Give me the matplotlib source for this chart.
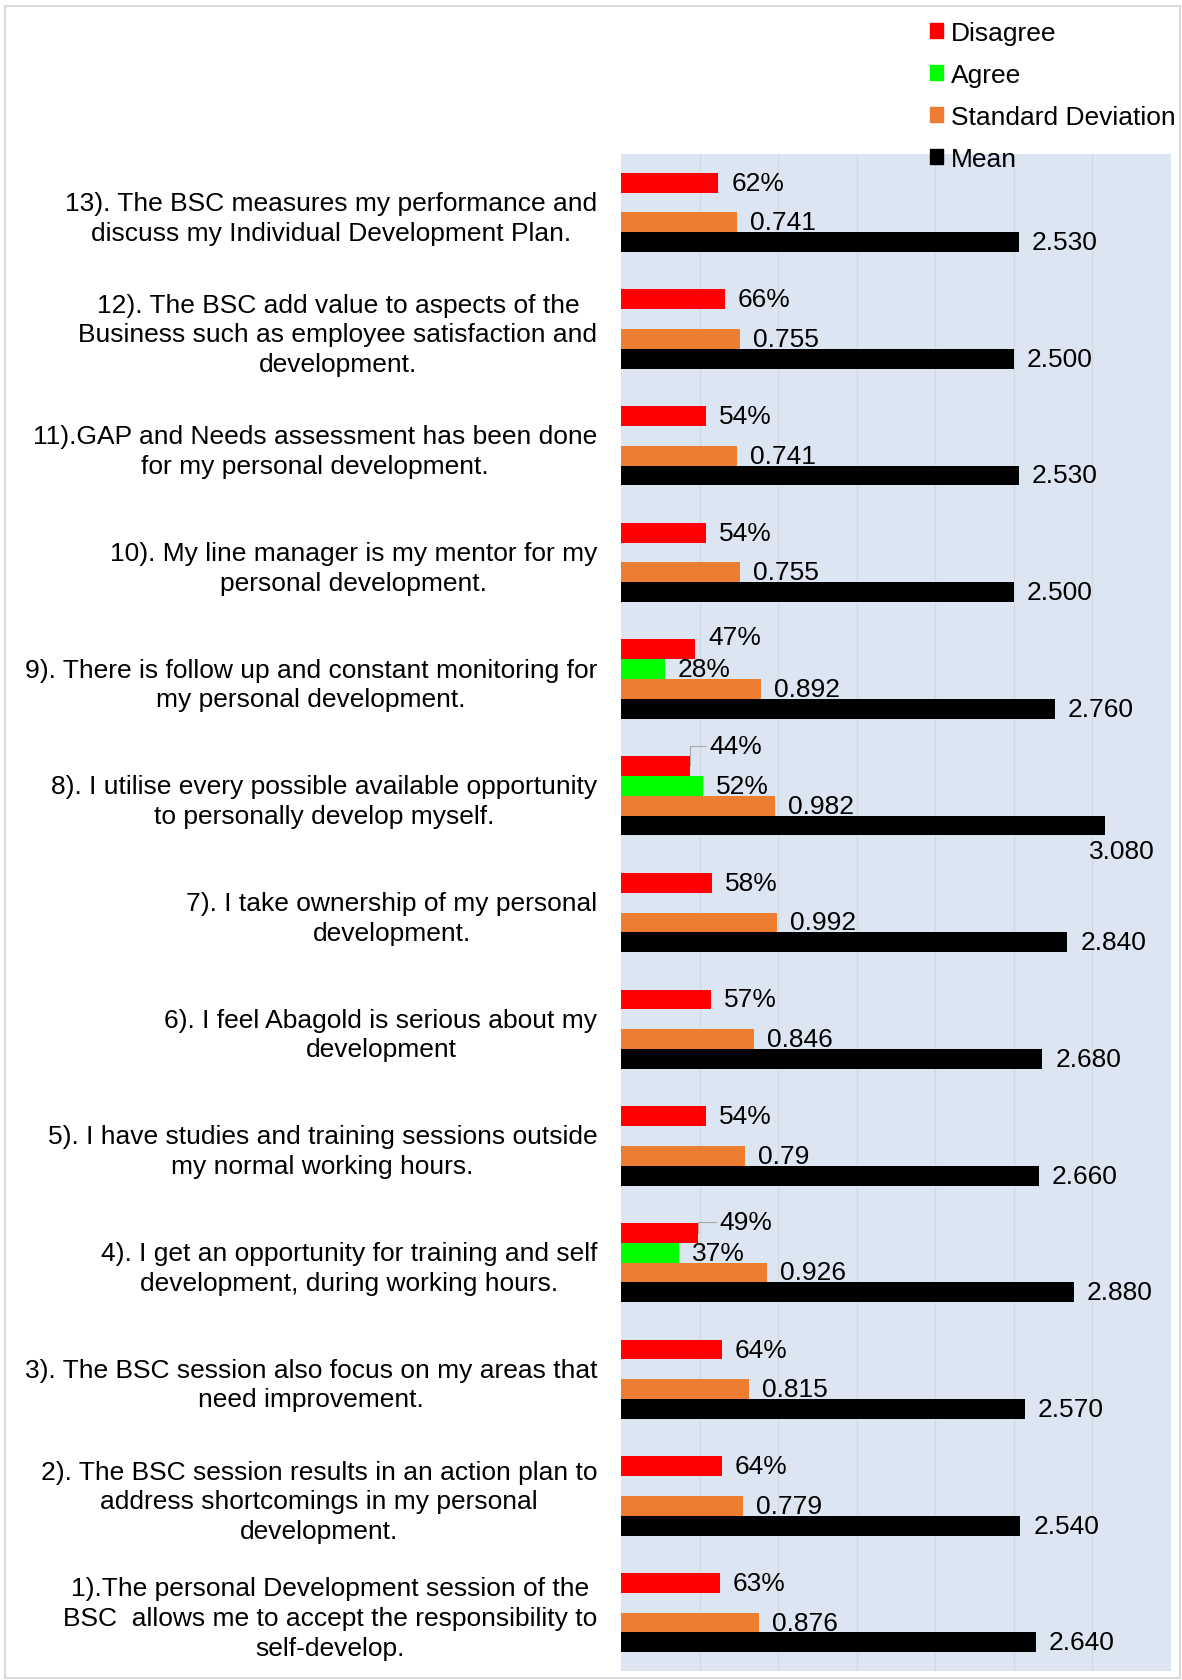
import numpy as np
import matplotlib.pyplot as plt
from matplotlib.patches import Rectangle, Patch

plt.rcParams['font.family'] = ['Liberation Sans', 'DejaVu Sans']

# survey items, bottom (1) to top (13)
questions = [
    "1).The personal Development session of the\nBSC  allows me to accept the responsibility to\nself-develop.",
    "2). The BSC session results in an action plan to\naddress shortcomings in my personal\ndevelopment.",
    "3). The BSC session also focus on my areas that\nneed improvement.",
    "4). I get an opportunity for training and self\ndevelopment, during working hours.",
    "5). I have studies and training sessions outside\nmy normal working hours.",
    "6). I feel Abagold is serious about my\ndevelopment",
    "7). I take ownership of my personal\ndevelopment.",
    "8). I utilise every possible available opportunity\nto personally develop myself.",
    "9). There is follow up and constant monitoring for\nmy personal development.",
    "10). My line manager is my mentor for my\npersonal development.",
    "11).GAP and Needs assessment has been done\nfor my personal development.",
    "12). The BSC add value to aspects of the\nBusiness such as employee satisfaction and\ndevelopment.",
    "13). The BSC measures my performance and\ndiscuss my Individual Development Plan.",
]
disagree = [0.63, 0.64, 0.64, 0.49, 0.54, 0.57, 0.58, 0.44, 0.47, 0.54, 0.54, 0.66, 0.62]
agree = [np.nan, np.nan, np.nan, 0.37, np.nan, np.nan, np.nan, 0.52, 0.28, np.nan, np.nan, np.nan, np.nan]
std_dev = [0.876, 0.779, 0.815, 0.926, 0.79, 0.846, 0.992, 0.982, 0.892, 0.755, 0.741, 0.755, 0.741]
mean = [2.64, 2.54, 2.57, 2.88, 2.66, 2.68, 2.84, 3.08, 2.76, 2.50, 2.53, 2.50, 2.53]

FS = 19
pt = 72 / 100  # pixels -> points at dpi 100

fig = plt.figure(figsize=(11.82, 16.81), dpi=100)
ax = fig.add_axes([621 / 1182, 1 - 1672 / 1681, 550 / 1182, (1672 - 155) / 1681])
ax.set_facecolor('#DCE6F2')

y = np.arange(1, len(questions) + 1)
h = 0.17

series = [
    ('Disagree', disagree, '#FF0000', 1.5, lambda v: f"{v * 100:.0f}%"),
    ('Agree', agree, '#00FF00', 0.5, lambda v: f"{v * 100:.0f}%"),
    ('Standard Deviation', std_dev, '#ED7D31', -0.5, lambda v: f"{v:g}"),
    ('Mean', mean, '#000000', -1.5, lambda v: f"{v:.3f}"),
]

# labels that got nudged off their bars (offsets in pixels)
moved = {
    ('Disagree', 8): (19, 20, True),
    ('Disagree', 4): (21, 11, True),
    ('Disagree', 9): (14, 12, False),
    ('Mean', 8): (-16, -25, False),
}

handles = []
for name, vals, color, off, fmt in series:
    vals = np.array(vals, dtype=float)
    ok = np.isfinite(vals)
    ax.barh(y[ok] + off * h, vals[ok], height=h, color=color, zorder=3)
    handles.append(Patch(color=color, label=name))
    for yi, v in zip(y[ok], vals[ok]):
        dx, dy, leader = moved.get((name, yi), (13, 0, False))
        kw = {}
        if leader:
            kw['arrowprops'] = dict(arrowstyle='-', color='#A6A6A6', lw=0.8,
                                    shrinkA=0, shrinkB=0, relpos=(0, 0.5),
                                    connectionstyle='angle,angleA=0,angleB=90,rad=0')
        ax.annotate(fmt(v), xy=(v, yi + off * h), xytext=(dx * pt, dy * pt),
                    textcoords='offset points', ha='left', va='center',
                    fontsize=FS, color='#000000', zorder=2, **kw)

ax.set_xlim(0, 3.5)
ax.set_ylim(0.5, len(questions) + 0.5)
ax.set_xticks(np.arange(0.5, 3.5, 0.5))
ax.set_xticklabels([])
ax.grid(axis='x', color='#D3D8DE', lw=0.9, zorder=1)
ax.set_axisbelow(True)
ax.set_yticks(y)
ax.set_yticklabels(questions, fontsize=FS, multialignment='center', linespacing=1.3)
ax.tick_params(length=0, pad=17)
for s in ax.spines.values():
    s.set_visible(False)

fig.legend(handles=handles, loc='upper left', bbox_to_anchor=(930 / 1182, 1 - 22 / 1681),
           frameon=False, fontsize=FS, handlelength=0.5, handleheight=0.5,
           handletextpad=0.3, labelspacing=0.68, borderpad=0, borderaxespad=0)

fig.patches.append(Rectangle((5 / 1182, 2 / 1681), 1175 / 1182, 1672 / 1681,
                             transform=fig.transFigure, fill=False,
                             edgecolor='#D9D9D9', lw=1.5))

fig.savefig('out.png', dpi=100)
